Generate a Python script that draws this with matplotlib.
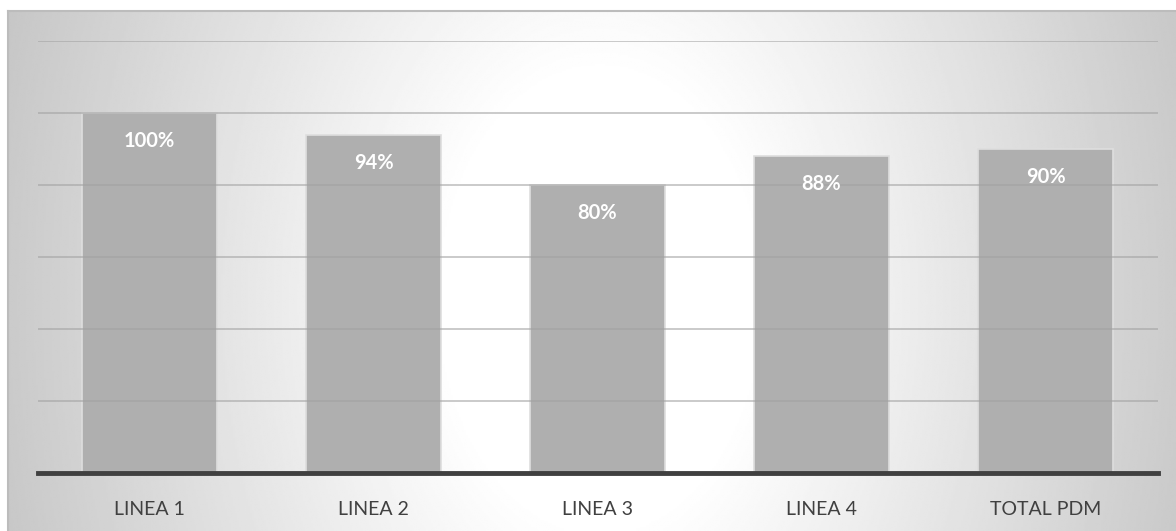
import numpy as np
import matplotlib.pyplot as plt

categorias = ['LINEA 1', 'LINEA 2', 'LINEA 3', 'LINEA 4', 'TOTAL PDM']
porcentajes = [100, 94, 80, 88, 90]

plt.rcParams['font.family'] = ['Lato', 'DejaVu Sans']

W, H = 1176, 531
fig = plt.figure(figsize=(W / 100, H / 100), dpi=100)
fig.patch.set_facecolor('white')

# fondo con degradado radial (blanco al centro, gris hacia los lados)
bg = fig.add_axes([8 / W, 0, 1 - 8 / W, (H - 11) / H])
bx, by = np.meshgrid(np.linspace(8, W, 600), np.linspace(11, H, 300))
r = np.sqrt(((bx - 600) / 620) ** 2 + ((by - 300) / 900) ** 2)
gris = 1.0 - 0.22 * np.clip((r - 0.25) / 0.75, 0, 1)
bg.imshow(gris, cmap='gray', vmin=0, vmax=1, aspect='auto',
          extent=[0, 1, 1, 0], interpolation='bilinear')
bg.set_xlim(0, 1)
bg.set_ylim(1, 0)
for lado in ['right', 'bottom']:
    bg.spines[lado].set_visible(False)
for lado in ['top', 'left']:
    bg.spines[lado].set_color('#bcbcbc')
    bg.spines[lado].set_linewidth(1.5)
bg.set_xticks([])
bg.set_yticks([])

ax = fig.add_axes([37.5 / W, (H - 473) / H, 1120 / W, 432 / H])
ax.patch.set_alpha(0)
x = np.arange(len(categorias))
ax.set_xlim(-0.5, len(categorias) - 0.5)
ax.set_ylim(0, 120)

bars = ax.bar(x, porcentajes, width=0.6, color='#afafaf',
              edgecolor='#dedede', linewidth=1.2, zorder=2)

# lineas de cuadricula por encima de las barras, semitransparentes
for yv in range(20, 121, 20):
    ax.axhline(yv, color='#a1a1a1', alpha=0.6, lw=1.3, zorder=3)

for bar, v in zip(bars, porcentajes):
    ax.text(bar.get_x() + bar.get_width() / 2, v - 7.8, f'{v}%',
            ha='center', va='center', color='white', fontsize=14.5,
            fontweight='bold', zorder=4)

ax.axhline(0, color='#404040', lw=3.5, zorder=5, clip_on=False)
ax.set_xticks(x)
ax.set_xticklabels(categorias, fontsize=14, color='#404040')
ax.tick_params(axis='x', length=0, pad=20)
ax.set_yticks([])
for lado in ['top', 'right', 'left', 'bottom']:
    ax.spines[lado].set_visible(False)

fig.savefig('out.png', dpi=100)
